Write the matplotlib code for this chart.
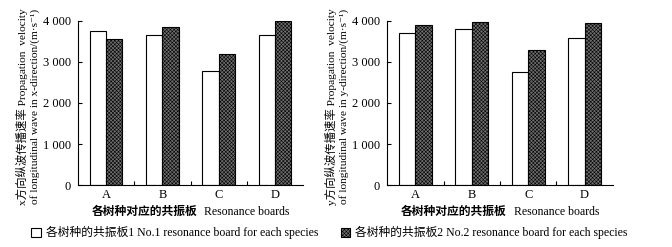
import numpy as np
import matplotlib
matplotlib.use('Agg')
import matplotlib.pyplot as plt

plt.rcParams['font.family'] = ['Liberation Serif', 'Noto Sans CJK SC', 'DejaVu Sans']
plt.rcParams['hatch.linewidth'] = 0.4

# boards (species)
boards = ['A', 'B', 'C', 'D']

# propagation velocity, x-direction (m/s)
vx_board1 = [3750, 3670, 2780, 3650]
vx_board2 = [3560, 3860, 3190, 4010]

# propagation velocity, y-direction (m/s)
vy_board1 = [3715, 3800, 2750, 3580]
vy_board2 = [3910, 3985, 3285, 3960]

yticks = [0, 1000, 2000, 3000, 4000]
ytick_labels = ['0', '1 000', '2 000', '3 000', '4 000']

xlabel_cn = '各树种对应的共振板'
xlabel_en = 'Resonance boards'
legend1 = '各树种的共振板1 No.1 resonance board for each species'
legend2 = '各树种的共振板2 No.2 resonance board for each species'

ylab_x = ['x方向纵波传播速率 Propagation  velocity',
          'of longitudinal wave in x-direction/(m·s⁻¹)']
ylab_y = ['y方向纵波传播速率 Propagation  velocity',
          'of longitudinal wave in y-direction/(m·s⁻¹)']

fig = plt.figure(figsize=(6.72, 2.47), dpi=100)
ax1 = fig.add_axes([0.116, 0.251, 0.335, 0.664])
ax2 = fig.add_axes([0.576, 0.251, 0.336, 0.664])

w = 0.29
x = np.arange(len(boards))


def draw(ax, v1, v2, ylab, fig_x, leg_label, which):
    b1 = ax.bar(x - w / 2, v1, w, facecolor='white', edgecolor='black', linewidth=0.8)
    b2 = ax.bar(x + w / 2, v2, w, facecolor='#6e6e6e', edgecolor='black',
                linewidth=0.8, hatch='xxxxxxxxx')
    ax.set_xlim(-0.5, 3.5)
    ax.set_ylim(0, 4000)
    ax.spines['top'].set_visible(False)
    ax.spines['right'].set_visible(False)
    ax.spines['left'].set_linewidth(0.8)
    ax.spines['bottom'].set_linewidth(0.8)
    ax.set_yticks(yticks)
    ax.set_yticklabels(ytick_labels)
    ax.tick_params(axis='y', direction='in', length=3, width=0.8, labelsize=9, pad=5)
    # group separators as minor ticks, labels at group centres
    ax.set_xticks(x)
    ax.set_xticklabels(boards)
    ax.set_xticks([0.5, 1.5, 2.5], minor=True)
    ax.tick_params(axis='x', which='major', length=0, labelsize=9, pad=3)
    ax.tick_params(axis='x', which='minor', direction='in', length=3, width=0.8)
    ax.text(0.53, -0.165, xlabel_cn, transform=ax.transAxes, ha='right', va='center',
            fontsize=8.5, weight='bold')
    ax.text(0.56, -0.165, xlabel_en, transform=ax.transAxes, ha='left', va='center',
            fontsize=8.5)
    fig.text(fig_x, 0.57, ylab[0], rotation=90, ha='center', va='center', fontsize=8.2)
    fig.text(fig_x + 13 / 672, 0.57, ylab[1], rotation=90, ha='center', va='center', fontsize=8.2)
    h = b1 if which == 1 else b2
    ax.legend([h], [leg_label], loc='center', bbox_to_anchor=(0.43, -0.29),
              frameon=False, fontsize=8.5, handlelength=0.8, handleheight=0.8,
              handletextpad=0.4, borderaxespad=0, borderpad=0)


draw(ax1, vx_board1, vx_board2, ylab_x, 22 / 672, legend1, 1)
draw(ax2, vy_board1, vy_board2, ylab_y, 331 / 672, legend2, 2)

fig.savefig('out.png', dpi=100)
